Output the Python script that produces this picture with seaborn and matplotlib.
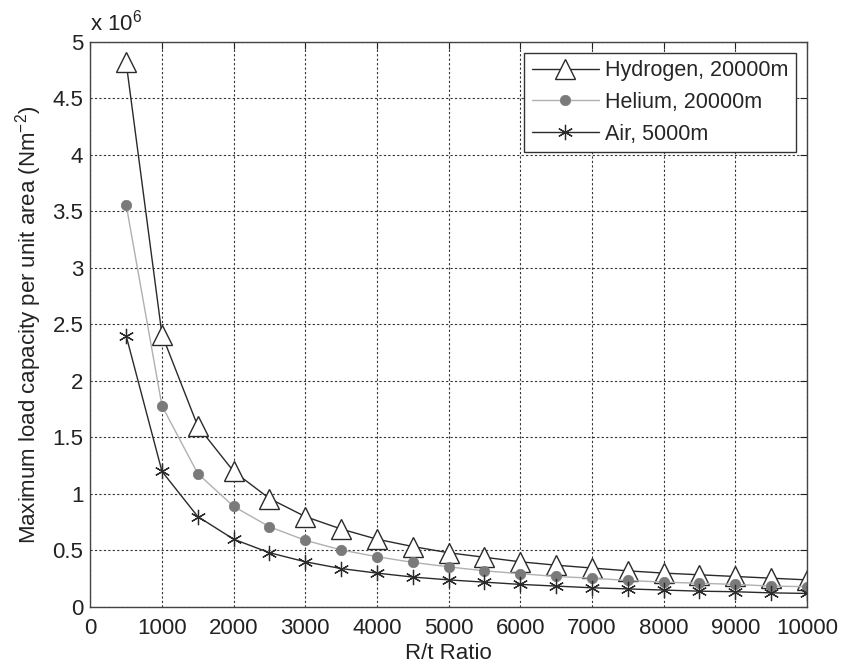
import numpy as np
import pandas as pd
import matplotlib
matplotlib.use("Agg")
import matplotlib.pyplot as plt
from matplotlib.ticker import FuncFormatter, MultipleLocator
import seaborn as sns

# R/t ratio sample points
rt_ratio = [500, 1000, 1500, 2000, 2500, 3000, 3500, 4000, 4500, 5000,
            5500, 6000, 6500, 7000, 7500, 8000, 8500, 9000, 9500, 10000]

# Maximum load capacity per unit area (N m^-2)
hydrogen_20000m = [4.82e6, 2.41e6, 1.60e6, 1.20e6, 0.96e6, 0.80e6, 0.69e6, 0.60e6,
                   0.535e6, 0.48e6, 0.44e6, 0.40e6, 0.37e6, 0.345e6, 0.32e6, 0.30e6,
                   0.285e6, 0.27e6, 0.255e6, 0.24e6]
helium_20000m = [3.56e6, 1.78e6, 1.18e6, 0.89e6, 0.71e6, 0.59e6, 0.505e6, 0.445e6,
                 0.395e6, 0.355e6, 0.32e6, 0.295e6, 0.27e6, 0.255e6, 0.235e6, 0.22e6,
                 0.21e6, 0.20e6, 0.185e6, 0.18e6]
air_5000m = [2.40e6, 1.20e6, 0.80e6, 0.60e6, 0.48e6, 0.40e6, 0.34e6, 0.30e6,
             0.265e6, 0.24e6, 0.22e6, 0.20e6, 0.185e6, 0.17e6, 0.16e6, 0.15e6,
             0.14e6, 0.135e6, 0.125e6, 0.12e6]

series_labels = ["Hydrogen, 20000m", "Helium, 20000m", "Air, 5000m"]
x_ticks = list(range(0, 10001, 1000))

df = pd.DataFrame({
    "R/t": rt_ratio * 3,
    "load": hydrogen_20000m + helium_20000m + air_5000m,
    "gas": [series_labels[0]] * len(rt_ratio)
           + [series_labels[1]] * len(rt_ratio)
           + [series_labels[2]] * len(rt_ratio),
})

sns.set_style("white")
plt.rcParams["font.family"] = ["Liberation Sans", "DejaVu Sans"]
plt.rcParams["mathtext.fontset"] = "custom"
plt.rcParams["mathtext.rm"] = "Liberation Sans"
plt.rcParams["mathtext.it"] = "Liberation Sans:italic"

fig = plt.figure(figsize=(8.52, 6.66), dpi=100)
ax = fig.add_axes([0.106, 0.0886, 0.841, 0.8484])

styles = {
    series_labels[0]: dict(color="#2a2a2a", lw=1.0, marker="^", ms=14,
                           mfc="white", mec="#2a2a2a", mew=1.0),
    series_labels[1]: dict(color="#b0b0b0", lw=1.0, marker="o", ms=7.5,
                           mfc="#7a7a7a", mec="#7a7a7a", mew=0.5),
    series_labels[2]: dict(color="#2a2a2a", lw=1.0, marker=(6, 2, 0), ms=11,
                           mfc="#2a2a2a", mec="#2a2a2a", mew=0.9),
}

for name in series_labels:
    st = styles[name]
    sns.lineplot(data=df[df["gas"] == name], x="R/t", y="load", ax=ax,
                 label=name, color=st["color"], linewidth=st["lw"],
                 marker=st["marker"], markersize=st["ms"],
                 markerfacecolor=st["mfc"], markeredgecolor=st["mec"],
                 markeredgewidth=st["mew"], errorbar=None)

ax.set_xlim(0, 10000)
ax.set_ylim(0, 5e6)
ax.set_xticks(x_ticks)
ax.yaxis.set_major_locator(MultipleLocator(0.5e6))
ax.yaxis.set_major_formatter(FuncFormatter(lambda v, p: f"{v / 1e6:g}"))

ax.grid(True, color="#333333", linestyle=(0, (2, 2)), linewidth=0.8)
ax.tick_params(direction="in", length=5, width=0.8, labelsize=16,
               top=True, right=True, colors="#222222")
ax.tick_params(axis="x", pad=8)
ax.tick_params(axis="y", pad=5)
for sp in ax.spines.values():
    sp.set_color("#444444")
    sp.set_linewidth(1.0)

ax.set_xlabel("R/t Ratio", fontsize=16, color="#222222", labelpad=3)
ax.set_ylabel("Maximum load capacity per unit area (Nm$^{-2}$)", fontsize=16,
              color="#222222", labelpad=6)
ax.text(0.0, 1.012, "x 10$^{6}$", transform=ax.transAxes, fontsize=16,
        color="#222222", ha="left", va="bottom")

leg = ax.legend(loc="upper right", fontsize=15.5, frameon=True, fancybox=False,
                edgecolor="#333333", framealpha=1.0, borderpad=0.35,
                handlelength=3.1, handletextpad=0.3, labelspacing=0.5,
                borderaxespad=0.5)
leg.get_frame().set_linewidth(1.0)

fig.savefig("out.png", dpi=100)
